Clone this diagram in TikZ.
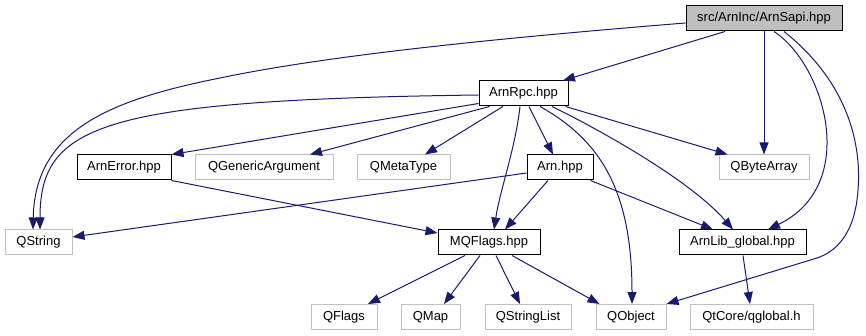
\documentclass[tikz,border=0pt]{standalone}
\usepackage{fontspec}
\setmainfont{Liberation Sans}
\usetikzlibrary{arrows.meta}
\definecolor{edgeblue}{HTML}{191970}
\definecolor{extgray}{HTML}{C0C0C0}
\definecolor{rootgray}{HTML}{BFBFBF}
\begin{document}
\begin{tikzpicture}[x=1pt,y=-1pt,
  file/.style={draw=black, fill=white, line width=1pt, minimum height=25pt,
               inner sep=0pt, font=\fontsize{13}{15}\selectfont},
  ext/.style={file, draw=extgray},
  root/.style={file, fill=rootgray},
  dep/.style={draw=edgeblue, line width=1pt, -{Triangle[length=12pt,width=9pt]}},
]
\useasboundingbox (0,0) rectangle (866,336);

% include files
\node[root, minimum width=156pt] (sapi) at (764,18.5) {src/ArnInc/ArnSapi.hpp};
\node[file, minimum width=89pt]  (rpc) at (523.5,93.5) {ArnRpc.hpp};
\node[file, minimum width=94pt]  (arnerror) at (124,167.5) {ArnError.hpp};
\node[ext,  minimum width=138pt] (qgeneric) at (264,167.5) {QGenericArgument};
\node[ext,  minimum width=93pt]  (qmetatype) at (403.5,167.5) {QMetaType};
\node[file, minimum width=66pt]  (arn) at (560,167.5) {Arn.hpp};
\node[ext,  minimum width=90pt]  (qbytearray) at (764,167.5) {QByteArray};
\node[ext,  minimum width=67pt]  (qstring) at (38.5,242.5) {QString};
\node[file, minimum width=102pt] (mqflags) at (489,242.5) {MQFlags.hpp};
\node[file, minimum width=127pt] (arnlib) at (742.5,242.5) {ArnLib\_global.hpp};
\node[ext,  minimum width=66pt]  (qflags) at (344,317) {QFlags};
\node[ext,  minimum width=59pt]  (qmap) at (430.5,317) {QMap};
\node[ext,  minimum width=86pt]  (qstringlist) at (528,317) {QStringList};
\node[ext,  minimum width=70pt]  (qobject) at (631,317) {QObject};
\node[ext,  minimum width=123pt] (qglobal) at (751.5,317) {QtCore/qglobal.h};

% dependencies of ArnSapi.hpp
\draw[dep] ([xshift=-39pt]sapi.south) -- ([xshift=39.5pt]rpc.north);
\draw[dep] ([yshift=-4.5pt]sapi.west) .. controls (500,38) and (330,55) .. (220,78)
           .. controls (110,100) and (35,130) .. ([xshift=-5.5pt]qstring.north);
\draw[dep] (sapi.south) -- (qbytearray.north);
\draw[dep] ([xshift=10pt]sapi.south) .. controls (825,65) and (860,185) .. ([xshift=25.5pt]arnlib.north);
\draw[dep] ([xshift=20pt]sapi.south) .. controls (845,80) and (862,140) .. (858,190)
           .. controls (855,235) and (835,252) .. (817,258) -- (qobject.north east);

% dependencies of ArnRpc.hpp
\draw[dep] ([yshift=-1.5pt]rpc.west) .. controls (100,100) and (40,125) .. ([xshift=1.5pt]qstring.north);
\draw[dep] ([yshift=3pt]rpc.south west) -- (arnerror.north east);
\draw[dep] ([xshift=11pt]rpc.south west) -- ([xshift=46pt]qgeneric.north);
\draw[dep] ([xshift=-20.5pt]rpc.south) -- ([xshift=21.5pt]qmetatype.north);
\draw[dep] ([xshift=-3.5pt]rpc.south) .. controls (515,150) and (500,190) .. ([xshift=5pt]mqflags.north);
\draw[dep] ([xshift=5.5pt]rpc.south) -- ([xshift=-7pt]arn.north);
\draw[dep] ([xshift=16.5pt]rpc.south) .. controls (600,140) and (632,190) .. ([xshift=1pt]qobject.north);
\draw[dep] ([xshift=28.5pt]rpc.south) .. controls (600,130) and (690,180) .. ([xshift=-9.5pt]arnlib.north);
\draw[dep] ([xshift=-3pt]rpc.south east) -- ([xshift=9pt]qbytearray.north west);

% dependencies of Arn.hpp
\draw[dep] ([yshift=-5.5pt]arn.west) -- ([yshift=5.5pt]qstring.east);
\draw[dep] ([xshift=-12pt]arn.south) -- ([xshift=16pt]mqflags.north);
\draw[dep] ([xshift=-3pt]arn.south east) -- ([xshift=-29.5pt]arnlib.north);

% dependencies of ArnError.hpp
\draw[dep] (arnerror.south east) -- ([yshift=9.5pt]mqflags.west);

% dependencies of MQFlags.hpp
\draw[dep] ([xshift=-24pt]mqflags.south) -- ([xshift=24pt]qflags.north);
\draw[dep] ([xshift=-9pt]mqflags.south) -- ([xshift=13.5pt]qmap.north);
\draw[dep] ([xshift=7pt]mqflags.south) -- ([xshift=-8pt]qstringlist.north);
\draw[dep] ([xshift=23pt]mqflags.south) -- ([xshift=4pt]qobject.north west);

% dependencies of ArnLib_global.hpp
\draw[dep] ([xshift=0.5pt]arnlib.south) -- ([xshift=-1.5pt]qglobal.north);
\end{tikzpicture}
\end{document}
